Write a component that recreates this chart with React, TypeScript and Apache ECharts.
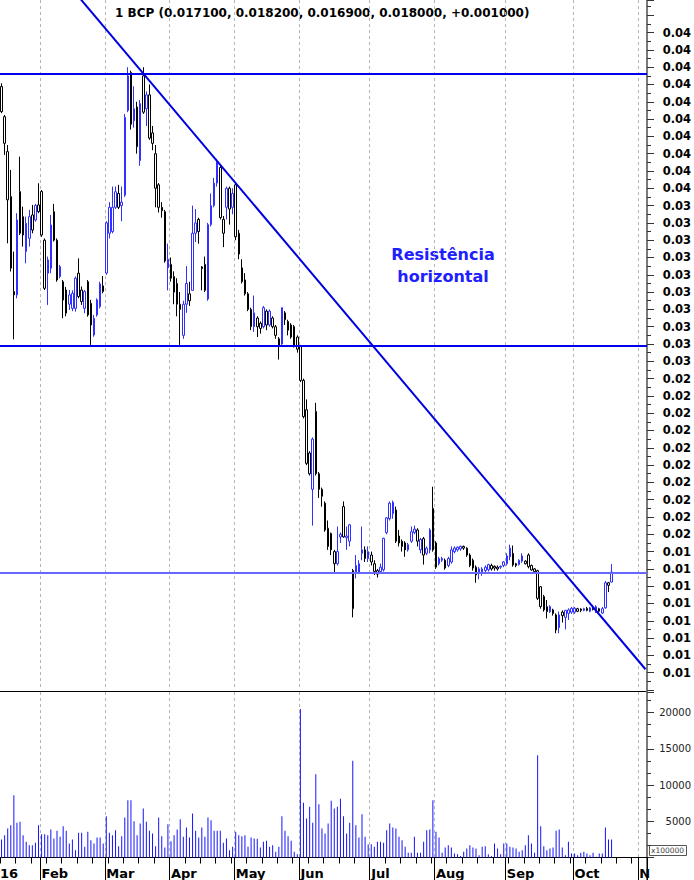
import React, { useEffect, useRef } from 'react';
import * as echarts from 'echarts';

const titleText = '1 BCP (0.017100, 0.018200, 0.016900, 0.018000, +0.001000)';
const noteText = 'Resistência\nhorizontal';

// month boundaries (category index of the first session of each month) and their labels
const monthStarts = [13, 34, 55, 76, 97, 120, 141, 164, 186, 207];
const monthLabels = ['Feb', 'Mar', 'Apr', 'May', 'Jun', 'Jul', 'Aug', 'Sep', 'Oct', 'N'];
const yearLabel = '16';
const holidays = ['2016-03-25', '2016-03-28'];
const N_CATEGORIES = 210;
const FIRST = 0; // category index of the first session in the arrays below

const open = [
  0.04088, 0.03914, 0.03712, 0.03452, 0.02903, 0.02884, 0.03481, 0.03336, 0.03134, 0.03211, 0.03346, 0.03317, 0.03404,
  0.03481, 0.0320, 0.03009, 0.03038, 0.03365, 0.0320, 0.0299, 0.0296, 0.02912, 0.02884, 0.02806, 0.02806, 0.03009, 0.02912, 0.02806, 0.0296, 0.02835, 0.02652, 0.02768, 0.02816, 0.02936,
  0.0301, 0.0324, 0.0325, 0.0339, 0.0347, 0.0340, 0.0346, 0.0395, 0.0417, 0.0389, 0.0397, 0.0366, 0.0415, 0.0396, 0.0404, 0.0382, 0.0370, 0.0352, 0.0339, 0.03365, 0.0304,
  0.0306, 0.0299, 0.0295, 0.0283, 0.0265, 0.0283, 0.0285, 0.0291, 0.0324, 0.0332, 0.03045, 0.0306, 0.0286, 0.0329, 0.0340, 0.0353, 0.0362, 0.0332, 0.0339, 0.0350, 0.0339,
  0.0352, 0.0324, 0.0304, 0.0297, 0.0289, 0.0280, 0.0270, 0.0275, 0.0272, 0.0270, 0.0271, 0.0271, 0.0275, 0.0270, 0.0263, 0.0260, 0.0278, 0.0273, 0.0271, 0.0270, 0.0264,
  0.02585, 0.0239, 0.0222, 0.0197, 0.0176, 0.0221, 0.0185, 0.0176, 0.0168, 0.01535, 0.01505, 0.0140, 0.0133, 0.01485, 0.0166, 0.0148, 0.0146, 0.0107, 0.01275, 0.01275, 0.0139, 0.0141, 0.0136,
  0.0138, 0.0133, 0.0129, 0.01285, 0.01295, 0.0151, 0.0159, 0.0162, 0.0164, 0.0149, 0.0146, 0.0145, 0.0141, 0.0146, 0.0151, 0.01525, 0.0141, 0.01475, 0.0139, 0.0141, 0.0165,
  0.0145, 0.0133, 0.0135, 0.0135, 0.0132, 0.0134, 0.0140, 0.0141, 0.01415, 0.0143, 0.0142, 0.0138, 0.0135, 0.0131, 0.0130, 0.01275, 0.0129, 0.01295, 0.0130, 0.01315, 0.0131, 0.01315, 0.0132,
  0.0133, 0.0137, 0.0139, 0.0133, 0.01325, 0.01345, 0.01345, 0.0138, 0.0132, 0.0130, 0.0129, 0.01197, 0.0114, 0.01082, 0.01053, 0.01063, 0.01034, 0.0096, 0.0105, 0.0102, 0.01043, 0.0105,
  0.0105, 0.01055, 0.01068, 0.0106, 0.01072, 0.01055, 0.01072, 0.0105, 0.0107, 0.01045, 0.01075, 0.0122, 0.01224,
];

const close = [
  0.03943, 0.0376, 0.03433, 0.03038, 0.02884, 0.03317, 0.0324, 0.0323, 0.03298, 0.03336, 0.03259, 0.0340, 0.03365,
  0.0323, 0.02922, 0.03086, 0.03288, 0.0320, 0.0297, 0.03047, 0.02854, 0.02778, 0.0283, 0.02893, 0.0298, 0.02874, 0.02845, 0.02903, 0.02768, 0.0271, 0.02749, 0.02855, 0.02947, 0.02903,
  0.0330, 0.0339, 0.0339, 0.0348, 0.0339, 0.0342, 0.0391, 0.0415, 0.0387, 0.0396, 0.0374, 0.0399, 0.0394, 0.0404, 0.0379, 0.0376, 0.0350, 0.0339, 0.0337, 0.0308, 0.0309,
  0.0298, 0.0290, 0.0283, 0.0280, 0.0283, 0.0295, 0.0289, 0.0324, 0.0330, 0.0325, 0.03035, 0.0291, 0.0329, 0.0340, 0.0353, 0.0365, 0.0333, 0.0324, 0.0350, 0.0338, 0.0347,
  0.0322, 0.0312, 0.0296, 0.0289, 0.0280, 0.0270, 0.0278, 0.0270, 0.0269, 0.0281, 0.0279, 0.0279, 0.0270, 0.0265, 0.02585, 0.0281, 0.0274, 0.0268, 0.0264, 0.02585, 0.0257,
  0.0239, 0.0218, 0.0191, 0.0185, 0.0205, 0.0185, 0.0176, 0.0172, 0.01525, 0.0143, 0.0141, 0.0133, 0.0140, 0.0150, 0.01485, 0.0149, 0.01555, 0.0129, 0.0132, 0.0133, 0.0141, 0.0136, 0.0140,
  0.0134, 0.01285, 0.0127, 0.0131, 0.01477, 0.01595, 0.0168, 0.01685, 0.0146, 0.0145, 0.0143, 0.0141, 0.0144, 0.01515, 0.0153, 0.0146, 0.0147, 0.0138, 0.0142, 0.01525, 0.0141,
  0.0131, 0.0136, 0.0136, 0.01305, 0.0136, 0.0141, 0.0142, 0.01425, 0.0143, 0.0142, 0.0138, 0.0132, 0.01305, 0.01265, 0.01275, 0.0130, 0.0131, 0.01325, 0.0132, 0.01305, 0.0130, 0.0131, 0.0134,
  0.01375, 0.0142, 0.01323, 0.0132, 0.0135, 0.01375, 0.0133, 0.01313, 0.01294, 0.01284, 0.0113, 0.01082, 0.01063, 0.01053, 0.01082, 0.01043, 0.00947, 0.01034, 0.0103, 0.0106, 0.01063, 0.01072,
  0.01072, 0.0107, 0.0106, 0.0107, 0.0106, 0.01075, 0.01065, 0.01082, 0.01055, 0.0107, 0.0122, 0.01205, 0.01282,
];

const high = [
  0.04107, 0.03924, 0.0375, 0.03606, 0.03134, 0.03356, 0.03683, 0.03394, 0.03336, 0.03375, 0.03404, 0.0341, 0.03529,
  0.0349, 0.0321, 0.03105, 0.03346, 0.0341, 0.0321, 0.03057, 0.0297, 0.0293, 0.02912, 0.0291, 0.0299, 0.03095, 0.02932, 0.02912, 0.0297, 0.02855, 0.02768, 0.02864, 0.0296, 0.02993,
  0.0331, 0.0342, 0.0351, 0.0351, 0.0352, 0.0351, 0.0393, 0.0420, 0.0418, 0.0409, 0.0400, 0.0401, 0.0420, 0.0406, 0.0410, 0.0386, 0.0375, 0.0353, 0.0342, 0.03375, 0.0318,
  0.0310, 0.0302, 0.0298, 0.0290, 0.0285, 0.0305, 0.0296, 0.0340, 0.0338, 0.0333, 0.0305, 0.03105, 0.0330, 0.0347, 0.0356, 0.0367, 0.0363, 0.0334, 0.0351, 0.0351, 0.0350,
  0.0353, 0.0326, 0.0309, 0.0301, 0.0290, 0.0281, 0.0288, 0.0276, 0.0273, 0.0282, 0.0280, 0.0280, 0.0276, 0.0271, 0.0264, 0.0281, 0.0279, 0.0274, 0.0272, 0.0271, 0.0265,
  0.02595, 0.0240, 0.0228, 0.0198, 0.0206, 0.0226, 0.0186, 0.0177, 0.0169, 0.0158, 0.0151, 0.0141, 0.01545, 0.0151, 0.0169, 0.01545, 0.0156, 0.0130, 0.0138, 0.0135, 0.01545, 0.0143, 0.0143,
  0.0140, 0.0135, 0.0130, 0.0133, 0.0148, 0.0160, 0.0169, 0.01695, 0.0166, 0.01525, 0.0147, 0.0146, 0.0145, 0.01545, 0.0155, 0.01535, 0.0148, 0.01485, 0.0143, 0.01535, 0.01775,
  0.0146, 0.0137, 0.0137, 0.0136, 0.0137, 0.0143, 0.0143, 0.0143, 0.01435, 0.01435, 0.01425, 0.0139, 0.0136, 0.0132, 0.0131, 0.0131, 0.0132, 0.0133, 0.0133, 0.0132, 0.0132, 0.0132, 0.01345,
  0.0139, 0.0144, 0.01435, 0.01335, 0.01355, 0.0139, 0.0135, 0.0139, 0.01325, 0.01305, 0.01295, 0.0120, 0.0115, 0.0112, 0.0109, 0.0107, 0.01043, 0.01053, 0.0106, 0.01063, 0.01072, 0.0108,
  0.0108, 0.01075, 0.01072, 0.01075, 0.0108, 0.0108, 0.0108, 0.0109, 0.01075, 0.0108, 0.0123, 0.01225, 0.01328,
];

const low = [
  0.03934, 0.03693, 0.03182, 0.03019, 0.02627, 0.02864, 0.0323, 0.03163, 0.03066, 0.03163, 0.0324, 0.03307, 0.03356,
  0.0322, 0.02912, 0.02826, 0.03009, 0.03192, 0.0296, 0.0298, 0.02749, 0.0276, 0.02797, 0.0279, 0.02787, 0.02864, 0.02826, 0.02778, 0.02758, 0.02595, 0.02642, 0.02758, 0.02806, 0.02893,
  0.0300, 0.0321, 0.0324, 0.0338, 0.0338, 0.0331, 0.0345, 0.0394, 0.0384, 0.0385, 0.0370, 0.0363, 0.0393, 0.0386, 0.0378, 0.0372, 0.0339, 0.0336, 0.0333, 0.0307, 0.0291,
  0.0296, 0.0283, 0.0276, 0.02595, 0.0263, 0.0278, 0.0282, 0.0291, 0.0319, 0.0318, 0.0291, 0.0290, 0.0285, 0.0328, 0.0339, 0.0351, 0.0332, 0.0316, 0.0332, 0.0329, 0.0335,
  0.0320, 0.0309, 0.0295, 0.0288, 0.0279, 0.0268, 0.0267, 0.0264, 0.0266, 0.0269, 0.0268, 0.0270, 0.0269, 0.0263, 0.0251, 0.02595, 0.0271, 0.0265, 0.0263, 0.0258, 0.0255,
  0.0238, 0.0217, 0.0190, 0.0184, 0.0155, 0.0184, 0.0171, 0.0166, 0.01515, 0.0141, 0.0138, 0.01275, 0.0132, 0.0145, 0.0148, 0.0141, 0.0143, 0.0102, 0.01245, 0.0127, 0.0135, 0.0134, 0.0134,
  0.0132, 0.01265, 0.0125, 0.01275, 0.01285, 0.0150, 0.0158, 0.0159, 0.0145, 0.0143, 0.0140, 0.0137, 0.0140, 0.0145, 0.0150, 0.0143, 0.0139, 0.01325, 0.0138, 0.0139, 0.0140,
  0.0130, 0.0132, 0.0134, 0.01295, 0.0131, 0.0133, 0.0139, 0.0140, 0.01405, 0.0141, 0.0137, 0.0131, 0.0129, 0.0122, 0.0124, 0.0126, 0.0128, 0.01285, 0.0129, 0.0129, 0.0129, 0.0130, 0.0131,
  0.0132, 0.0135, 0.01313, 0.0131, 0.0132, 0.01335, 0.01325, 0.01303, 0.0129, 0.0128, 0.0112, 0.0107, 0.01053, 0.01014, 0.01045, 0.0103, 0.00928, 0.00928, 0.0099, 0.0095, 0.01005, 0.0104,
  0.0104, 0.0105, 0.0105, 0.01055, 0.01055, 0.0105, 0.0106, 0.01045, 0.0105, 0.0104, 0.0107, 0.01166, 0.0122,
];

const volume = [
  2480, 3080, 4000, 4460, 8600, 4780, 4920, 3080, 2160, 1700, 1700, 2020, 4460,
  3220, 3220, 3080, 3860, 2620, 3680, 2850, 4320, 3680, 1930, 2480, 1010, 3400, 3400, 1470, 3540, 2390, 1930, 2760, 2760, 1930,
  5700, 3400, 3080, 3770, 1560, 2940, 5520, 7910, 7910, 5010, 3080, 4690, 6760, 4920, 3680, 3310, 1560, 5520, 2940, 1380, 4600,
  2250, 3080, 3860, 5290, 2850, 4140, 2760, 6070, 3680, 2760, 4140, 2850, 5520, 5150, 3680, 3680, 3680, 2020, 2620, 1010, 1470,
  3540, 3080, 2940, 3080, 1470, 2760, 2620, 2580, 1380, 2160, 2300, 1470, 1700, 780, 1500, 5700, 3680, 2940, 2300, 780, 460,
  20500, 7540, 5380, 6990, 4780, 11500, 7360, 4000, 3310, 4690, 7820, 6760, 6990, 8100, 5700, 3310, 4780, 13340, 4460, 2760, 5980, 2850, 1800,
  1840, 1470, 2160, 2160, 2020, 3770, 4690, 4140, 4000, 2850, 2390, 1470, 640, 640, 2850, 640, 640, 2160, 3770, 3860, 7910,
  3540, 2760, 640, 1380, 1700, 1380, 550, 460, 200, 780, 1240, 1700, 1380, 1240, 320, 1470, 1560, 460, 200, 1930, 1240, 460, 1930,
  1930, 1470, 1380, 1240, 780, 1010, 1700, 3080, 1930, 640, 14120, 4320, 1560, 1010, 1240, 1380, 3680, 3860, 1380, 320, 2160, 550,
  550, 320, 640, 780, 550, 320, 640, 100, 550, 550, 4140, 2480, 2480,
];

// annotation levels
const upperResistance = 0.04164;
const lowerResistance = 0.02591;
const breakoutLevel = 0.01278;
const trendIdx = [13, 209];
const trendVal = [0.04861, 0.0072];

function tradingDays(): string[] {
  const out: string[] = [];
  const d = new Date(Date.UTC(2016, 0, 13));
  while (out.length < N_CATEGORIES) {
    const wd = d.getUTCDay();
    const s = d.toISOString().slice(0, 10);
    if (wd !== 0 && wd !== 6 && holidays.indexOf(s) < 0) out.push(s);
    d.setUTCDate(d.getUTCDate() + 1);
  }
  return out;
}

const BLUE = '#3030ff';

function buildOption() {
  const categories = tradingDays();
  const candles = categories.map((_, i) => {
    const k = i - FIRST;
    if (k < 0 || k >= open.length) return ['-', '-', '-', '-'];
    const o = open[k];
    const c = close[k];
    const prev = k > 0 ? close[k - 1] : o;
    const col = c >= prev ? BLUE : '#000000';
    return {
      value: [o, c, low[k], high[k]],
      itemStyle: { color: '#ffffff', color0: col, borderColor: col, borderColor0: col },
    };
  });
  const vols = categories.map((_, i) => {
    const k = i - FIRST;
    return k >= 0 && k < volume.length ? volume[k] : '-';
  });
  const trend = categories.map((_, i) => {
    const j = trendIdx.indexOf(i);
    return j >= 0 ? trendVal[j] : null;
  });
  const isMonth = (idx: number) => monthStarts.indexOf(idx) >= 0;
  const dashed = { show: true, interval: (idx: number) => isMonth(idx), lineStyle: { color: '#b4b4b4', type: [3, 3], width: 1 } };

  const gridWidth = 647;

  return {
    animation: false,
    backgroundColor: '#ffffff',
    textStyle: { fontFamily: 'DejaVu Sans' },
    grid: [
      { left: 0, width: gridWidth, top: 0, height: 690 },
      { left: 0, width: gridWidth, top: 692, height: 165.5 },
    ],
    xAxis: [
      {
        type: 'category', gridIndex: 0, data: categories, boundaryGap: true,
        axisLine: { show: false, onZero: false }, axisTick: { show: false }, axisLabel: { show: false },
        splitLine: dashed,
      },
      {
        type: 'category', gridIndex: 1, data: categories, boundaryGap: true, position: 'bottom',
        axisLine: { show: true, onZero: false, lineStyle: { color: '#000', width: 1 } },
        axisTick: { show: true, interval: 4, length: 6, lineStyle: { color: '#000' } },
        axisLabel: {
          show: true,
          interval: (idx: number) => isMonth(idx),
          formatter: (_v: string, idx: number) => {
            const j = monthStarts.indexOf(idx);
            return j >= 0 ? monthLabels[j] : '';
          },
          align: 'left', margin: 9, color: '#000', fontFamily: 'DejaVu Sans', fontWeight: 'bold', fontSize: 13,
        },
        splitLine: dashed,
      },
      {
        type: 'category', gridIndex: 1, data: categories, boundaryGap: true, position: 'bottom',
        axisLine: { show: false, onZero: false },
        axisTick: { show: true, interval: (idx: number) => isMonth(idx), length: 23, lineStyle: { color: '#000' } },
        axisLabel: { show: false }, splitLine: { show: false },
      },
    ],
    yAxis: [
      {
        type: 'value', gridIndex: 0, position: 'right', min: 0.006, max: 0.045884, interval: 0.001,
        axisLine: { show: true, lineStyle: { color: '#7a7a7a', width: 2 } },
        axisTick: { show: true, length: 7, lineStyle: { color: '#333' } },
        minorTick: { show: true, splitNumber: 2, length: 4, lineStyle: { color: '#333' } },
        splitLine: { show: false },
        axisLabel: {
          align: 'right', margin: 44, color: '#000', fontFamily: 'DejaVu Sans', fontWeight: 'bold', fontSize: 11.5,
          formatter: (v: number) => {
            const m = Math.round(v * 1000);
            if (m < 7 || m > 44 || Math.abs(v * 1000 - m) > 0.01) return '';
            return (Math.round(m / 10) / 100).toFixed(2);
          },
        },
      },
      {
        type: 'value', gridIndex: 1, position: 'right', min: 0, max: 22840, interval: 5000,
        axisLine: { show: true, lineStyle: { color: '#7a7a7a', width: 2 } },
        axisTick: { show: true, length: 7, lineStyle: { color: '#333' } },
        minorTick: { show: true, splitNumber: 3, length: 4, lineStyle: { color: '#333' } },
        splitLine: { show: false },
        axisLabel: {
          align: 'right', margin: 44, color: '#222', fontFamily: 'DejaVu Sans', fontSize: 10,
          formatter: (v: number) => (v > 0 && v % 5000 === 0 ? String(v) : ''),
        },
      },
    ],
    series: [
      {
        type: 'candlestick', xAxisIndex: 0, yAxisIndex: 0, data: candles, barWidth: 2,
        itemStyle: { borderWidth: 1 },
        markLine: {
          silent: true, symbol: ['none', 'none'], label: { show: false }, animation: false, precision: 6,
          data: [
            { yAxis: upperResistance, lineStyle: { color: '#0000ee', width: 2, type: 'solid' } },
            { yAxis: lowerResistance, lineStyle: { color: '#0000ee', width: 2, type: 'solid' } },
            { yAxis: breakoutLevel, lineStyle: { color: '#6868ff', width: 2, type: 'solid' } },
          ],
        },
      },
      {
        type: 'line', xAxisIndex: 0, yAxisIndex: 0, data: trend, connectNulls: true,
        symbol: 'none', showSymbol: false, clip: true, z: 5,
        lineStyle: { color: '#0000e0', width: 2 },
      },
      {
        type: 'bar', xAxisIndex: 1, yAxisIndex: 1, data: vols, barWidth: 1,
        itemStyle: { color: '#1414ff' },
      },
    ],
    graphic: [
      { type: 'line', silent: true, shape: { x1: 0, y1: 691.5, x2: 646, y2: 691.5 }, style: { stroke: '#000', lineWidth: 1 } },
      { type: 'line', silent: true, shape: { x1: 647, y1: 0, x2: 647, y2: 880 }, style: { stroke: '#7a7a7a', lineWidth: 2 } },
      {
        type: 'text', silent: true, x: 0, y: 866.5,
        style: { text: yearLabel, fontFamily: 'DejaVu Sans', fontWeight: 'bold', fontSize: 13, fill: '#000', verticalAlign: 'top', textVerticalAlign: 'top' },
      },
      {
        type: 'text', silent: true, x: 115, y: 13,
        style: { text: titleText, fontFamily: 'DejaVu Sans', fontWeight: 'bold', fontSize: 12, fill: '#000', verticalAlign: 'middle', textVerticalAlign: 'middle' },
      },
      {
        type: 'text', silent: true, x: 443, y: 243,
        style: { text: noteText, fontFamily: 'DejaVu Sans', fontWeight: 'bold', fontSize: 16, lineHeight: 22, fill: '#2020ff', align: 'center', textAlign: 'center', verticalAlign: 'top', textVerticalAlign: 'top' },
      },
      { type: 'rect', silent: true, shape: { x: 649.5, y: 845.5, width: 37, height: 10 }, style: { fill: '#fff', stroke: '#555', lineWidth: 1 } },
      {
        type: 'text', silent: true, x: 651, y: 850.5,
        style: { text: 'x100000', fontFamily: 'DejaVu Sans', fontSize: 7.5, fill: '#444', verticalAlign: 'middle', textVerticalAlign: 'middle' },
      },
    ],
  };
}

export default function App() {
  const ref = useRef<HTMLDivElement>(null);
  useEffect(() => {
    if (!ref.current) return;
    const chart = echarts.init(ref.current, null, { renderer: 'svg' });
    chart.setOption(buildOption() as any);
    return () => chart.dispose();
  }, []);
  return (
    <div
      ref={ref}
      style={{ position: 'fixed', left: 0, top: 0, width: 694, height: 880, background: '#ffffff' }}
    />
  );
}
